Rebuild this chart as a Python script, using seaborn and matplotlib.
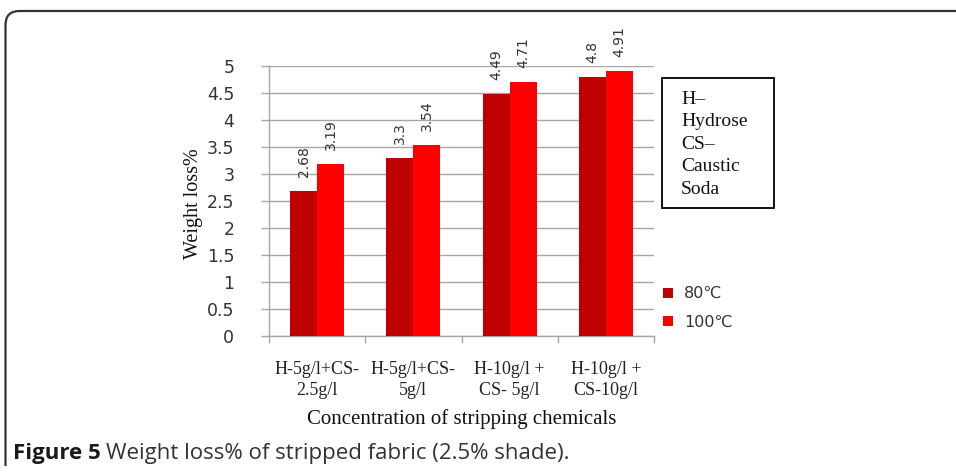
import matplotlib
matplotlib.use("Agg")
import matplotlib.pyplot as plt
from matplotlib.path import Path
from matplotlib.patches import PathPatch, Rectangle
import numpy as np
import pandas as pd
import seaborn as sns

# Data
categories = ["H-5g/l+CS-\n2.5g/l", "H-5g/l+CS-\n5g/l", "H-10g/l +\nCS- 5g/l", "H-10g/l +\nCS-10g/l"]
temps = ["80\u2103", "100\u2103"]
loss_80 = [2.68, 3.3, 4.49, 4.8]
loss_100 = [3.19, 3.54, 4.71, 4.91]
y_ticks = [0, 0.5, 1, 1.5, 2, 2.5, 3, 3.5, 4, 4.5, 5]

df = pd.DataFrame({
    "category": categories * 2,
    "temp": [temps[0]] * 4 + [temps[1]] * 4,
    "loss": loss_80 + loss_100,
})

sns.set_theme(style="white")
plt.rcParams["font.family"] = ["DejaVu Sans"]

W, H = 956, 472
fig = plt.figure(figsize=(W / 100, H / 100), dpi=100)
ax = fig.add_axes([269 / W, 1 - 336 / H, 385 / W, 270 / H])

palette = {temps[0]: "#C00000", temps[1]: "#FF0000"}
sns.barplot(data=df, x="category", y="loss", hue="temp", palette=palette,
            width=0.5625, gap=0, saturation=1, ax=ax, zorder=3, linewidth=0)

# value labels above each bar
for cont in ax.containers:
    for rect in cont:
        h = rect.get_height()
        ax.text(rect.get_x() + rect.get_width() / 2, h + 0.26, f"{h:g}",
                rotation=90, ha="center", va="bottom", fontsize=10,
                color="#333333", family="DejaVu Sans", clip_on=False)

ax.set_ylim(0, 5)
ax.set_xlim(-0.5, 3.5)
ax.set_yticks(y_ticks)
ax.set_yticklabels([f"{t:g}" for t in y_ticks], fontsize=12.5, color="#333333")
ax.yaxis.grid(True, color="#a6a6a6", linewidth=1, zorder=0)
ax.set_axisbelow(True)
ax.tick_params(axis="y", left=True, length=6, color="#a6a6a6", width=1, pad=19)

# category boundary ticks on the x axis
ax.set_xticks(np.arange(4))
ax.set_xticklabels(categories, fontsize=13, family="Liberation Serif",
                   color="#222222", linespacing=1.3)
ax.set_xticks(np.arange(-0.5, 4, 1), minor=True)
ax.tick_params(axis="x", which="major", length=0, pad=18)
ax.tick_params(axis="x", which="minor", bottom=True, length=5,
               color="#a6a6a6", width=1)

for side in ["top", "right"]:
    ax.spines[side].set_visible(False)
for side in ["left", "bottom"]:
    ax.spines[side].set_color("#a6a6a6")
    ax.spines[side].set_linewidth(1)

ax.set_xlabel("Concentration of stripping chemicals", fontsize=15,
              family="Liberation Serif", color="#111111", labelpad=7)
ax.set_ylabel("Weight loss%", fontsize=14.5, family="Liberation Serif",
              color="#111111")
ax.yaxis.set_label_coords(-0.172, 0.49)

# legend
sns.move_legend(ax, loc="center left", bbox_to_anchor=(663 / W, 1 - 308 / H),
                bbox_transform=fig.transFigure, frameon=False, title=None,
                fontsize=11.5, handlelength=0.6, handleheight=0.6,
                handletextpad=0.7, labelspacing=0.85, borderaxespad=0,
                borderpad=0)
for t in ax.get_legend().get_texts():
    t.set_color("#333333")

# abbreviation note box
fig.patches.append(Rectangle((662 / W, 1 - 208 / H), 112 / W, 130 / H,
                             transform=fig.transFigure, fill=False,
                             edgecolor="black", linewidth=1.3))
fig.text(681 / W, 1 - 91 / H, "H\u2013\nHydrose\nCS\u2013\nCaustic\nSoda",
         family="Liberation Serif", fontsize=14, va="top", ha="left",
         linespacing=1.42, color="#111111")

# rounded outer frame
r = 14
verts = [(5.5 / W, 1 - 466 / H), (5.5 / W, 1 - (11 + r) / H),
         (5.5 / W, 1 - 11 / H), ((5.5 + r) / W, 1 - 11 / H), (1.0, 1 - 11 / H)]
codes = [Path.MOVETO, Path.LINETO, Path.CURVE3, Path.CURVE3, Path.LINETO]
fig.patches.append(PathPatch(Path(verts, codes), transform=fig.transFigure,
                             fill=False, edgecolor="#333333", linewidth=1.6))

# caption
cap_y = 1 - 454 / H
t1 = fig.text(13 / W, cap_y, "Figure 5", family="Open Sans", fontweight="bold",
              fontsize=16, va="center", ha="left", color="#1a1a1a")
fig.canvas.draw()
bb = t1.get_window_extent()
fig.text((bb.x1 + 5) / W, cap_y, "Weight loss% of stripped fabric (2.5% shade).",
         family="Open Sans", fontsize=16, va="center", ha="left", color="#333333")

fig.savefig("out.png", dpi=100)
